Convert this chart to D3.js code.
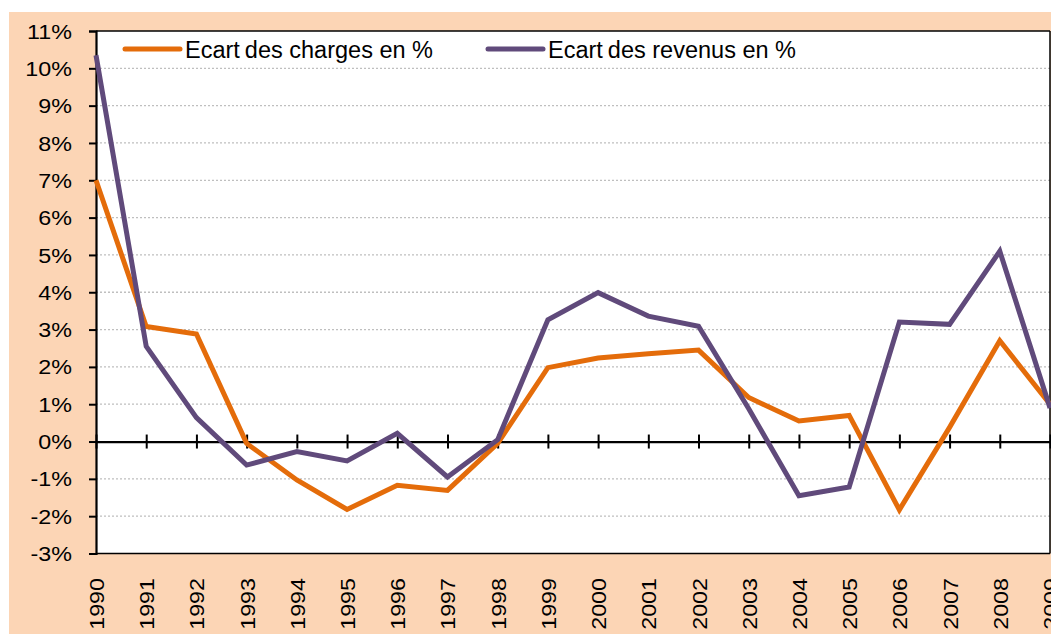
<!DOCTYPE html>
<html><head><meta charset="utf-8">
<script src="https://cdn.jsdelivr.net/npm/d3@7"></script>
<style>body{margin:0;background:#fff;}svg{display:block;}text{font-family:"Liberation Sans",Arial,sans-serif;fill:#000;}</style>
</head><body>
<script>
const years = [1990,1991,1992,1993,1994,1995,1996,1997,1998,1999,2000,2001,2002,2003,2004,2005,2006,2007,2008,2009];
const charges = [7.0,3.08,2.88,-0.05,-1.03,-1.82,-1.17,-1.31,-0.05,1.98,2.24,2.35,2.45,1.18,0.55,0.70,-1.83,0.38,2.70,1.0];
const revenus = [10.35,2.55,0.64,-0.63,-0.27,-0.52,0.22,-0.95,0.05,3.26,3.99,3.36,3.09,0.88,-1.45,-1.22,3.2,3.14,5.1,0.9];
const yTicks = [-3,-2,-1,0,1,2,3,4,5,6,7,8,9,10,11];
const seriesNames = ["Ecart des charges en %","Ecart des revenus en %"];
const colors = ["#E46C0A","#604A7B"];

const W=1051,H=634;
const svg=d3.select("body").append("svg").attr("width",W).attr("height",H);
svg.append("rect").attr("x",9).attr("y",12).attr("width",W-9).attr("height",H-12).attr("fill","#FCD5B5");
const L=96,R=1050,T=31,B=553.5;
svg.append("rect").attr("x",L).attr("y",T).attr("width",R-L).attr("height",B-T).attr("fill","#fff");
const x=d3.scaleLinear().domain([1990,2009]).range([L,R]);
const y=d3.scaleLinear().domain([-3,11]).range([B,T]);

// gridlines
svg.append("g").selectAll("line").data(yTicks.filter(d=>d!==0&&d!==-3&&d!==11)).join("line")
 .attr("x1",L).attr("x2",R).attr("y1",d=>y(d)).attr("y2",d=>y(d))
 .attr("stroke","#BFBFBF").attr("stroke-width",1.3).attr("stroke-dasharray","2,2");
// frame
svg.append("line").attr("x1",L).attr("x2",R).attr("y1",T).attr("y2",T).attr("stroke","#000").attr("stroke-width",1.5);
svg.append("line").attr("x1",R).attr("x2",R).attr("y1",T).attr("y2",B).attr("stroke","#000").attr("stroke-width",1.5);
svg.append("line").attr("x1",L).attr("x2",R).attr("y1",B).attr("y2",B).attr("stroke","#000").attr("stroke-width",1.5);

// y axis
const ya=svg.append("g").attr("transform",`translate(${L},0)`)
 .call(d3.axisLeft(y).tickValues(yTicks).tickFormat("").tickSize(7));
ya.select(".domain").attr("stroke","#000").attr("stroke-width",2.2);
ya.selectAll(".tick line").attr("stroke","#000").attr("stroke-width",2);
svg.append("g").selectAll("text").data(yTicks).join("text")
 .attr("transform",d=>`translate(${L-24},${y(d)}) scale(1.11,1)`)
 .attr("text-anchor","end").attr("dy","0.36em").attr("font-size",21).text(d=>d+"%");

// x axis at 0
const xa=svg.append("g").attr("transform",`translate(0,${y(0)})`)
 .call(d3.axisBottom(x).tickValues(years).tickFormat("").tickSize(0));
xa.select(".domain").attr("stroke","#000").attr("stroke-width",2.2);
xa.selectAll(".tick line").attr("y1",-7).attr("y2",7).attr("stroke","#000").attr("stroke-width",2);

// x labels
svg.append("g").selectAll("text").data(years).join("text")
 .attr("transform",d=>`translate(${x(d)+8},578) rotate(-90) scale(1.11,1)`)
 .attr("text-anchor","end").attr("font-size",21).text(d=>d);

// series lines
const line=d3.line().x((d,i)=>x(years[i])).y(d=>y(d));
[charges,revenus].forEach((s,k)=>{
 svg.append("path").datum(s).attr("d",line).attr("fill","none")
  .attr("stroke",colors[k]).attr("stroke-width",5).attr("stroke-linejoin","miter");
});

// legend
const legX=[125,488];
seriesNames.forEach((n,k)=>{
 svg.append("line").attr("x1",legX[k]).attr("x2",legX[k]+55).attr("y1",49).attr("y2",49)
  .attr("stroke",colors[k]).attr("stroke-width",5).attr("stroke-linecap","round");
 const words=n.split(" ");
 const t=svg.append("text").attr("x",legX[k]+60).attr("y",58).attr("font-size",23.5);
 t.append("tspan").text(words[0]);
 t.append("tspan").attr("dx",5).text(words.slice(1).join(" "));
});
</script>
</body></html>
